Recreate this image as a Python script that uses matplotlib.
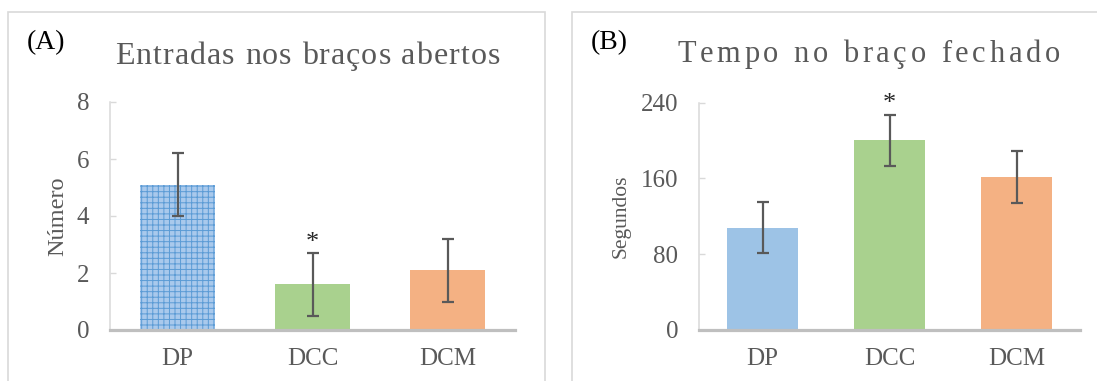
import matplotlib
matplotlib.use("Agg")
import matplotlib.pyplot as plt
from matplotlib.patches import Rectangle
from matplotlib import font_manager
from matplotlib.ft2font import FT2Font

# ---- data ----
groups = ["DP", "DCC", "DCM"]
entradas_mean = [5.1, 1.6, 2.1]
entradas_err = [1.1, 1.1, 1.1]
tempo_mean = [108, 200, 161]
tempo_err = [27, 27, 27.5]
bar_colors = ["#9dc3e6", "#a9d18e", "#f4b183"]
significant = [False, True, False]

W, H, DPI = 1097, 381, 100
SERIF = "Liberation Serif"
GREY_TXT = "#595959"
plt.rcParams["font.family"] = [SERIF, "DejaVu Serif"]
plt.rcParams["hatch.linewidth"] = 0.7

fig = plt.figure(figsize=(W / DPI, H / DPI), dpi=DPI)


def fx(px):
    return px / W


def fy(py):
    return 1 - py / H


def axes_px(left, top, right, bottom):
    return fig.add_axes([fx(left), fy(bottom), (right - left) / W, (bottom - top) / H])


def tracked_text(text, x_left, x_right, y_base, size, color):
    """Draw text glyph by glyph, spreading the letters to fill x_left..x_right."""
    fp = font_manager.FontProperties(family=SERIF, size=size)
    font = FT2Font(font_manager.findfont(fp))
    font.set_size(size, DPI)
    advances = [font.load_char(ord(ch)).linearHoriAdvance / 65536.0 for ch in text]
    spacing = (x_right - x_left - sum(advances)) / (len(text) - 1)
    x = x_left
    for ch, adv in zip(text, advances):
        fig.text(fx(x), fy(y_base), ch, fontsize=size, color=color,
                 ha="left", va="baseline", family=SERIF)
        x += adv + spacing


def style_axis(ax, ymax, yticks):
    ax.set_xlim(-0.5, 2.5)
    ax.set_ylim(0, ymax)
    ax.set_yticks(yticks)
    ax.set_xticks(range(len(groups)))
    ax.set_xticklabels(groups)
    for s in ("top", "right"):
        ax.spines[s].set_visible(False)
    ax.spines["left"].set_color("#d9d9d9")
    ax.spines["left"].set_linewidth(1.1)
    ax.spines["bottom"].set_color("#bfbfbf")
    ax.spines["bottom"].set_linewidth(2.3)
    ax.spines["bottom"].set_zorder(4)
    ax.tick_params(axis="y", direction="in", length=4.5, width=1.0,
                   color="#d9d9d9", pad=15, labelsize=18, labelcolor=GREY_TXT)
    ax.tick_params(axis="x", length=0, pad=13, labelsize=18, labelcolor=GREY_TXT)
    for lab in ax.get_xticklabels() + ax.get_yticklabels():
        lab.set_family(SERIF)


err_kw = dict(ecolor="#595959", elinewidth=1.6, capsize=4.5, capthick=1.6)
x = range(len(groups))

# ---- panel A ----
axA = axes_px(110, 102, 515, 330)
barsA = axA.bar(x, entradas_mean, width=0.56, color=bar_colors, zorder=2,
                yerr=entradas_err, error_kw=err_kw)
barsA[0].set_facecolor("#a9c9ec")
barsA[0].set_edgecolor("#5b9bd5")
barsA[0].set_linewidth(0)
barsA[0].set_hatch("+++")
style_axis(axA, 8, [0, 2, 4, 6, 8])
axA.set_ylabel("Número", fontsize=17.5, color=GREY_TXT, labelpad=6)
for i, sig in enumerate(significant):
    if sig:
        axA.text(i, entradas_mean[i] + entradas_err[i] + 0.35, "*", ha="center",
                 va="center", fontsize=19, color="#262626")

# ---- panel B ----
axB = axes_px(699, 102.5, 1080, 330)
axB.bar(x, tempo_mean, width=0.56, color=bar_colors, zorder=2,
        yerr=tempo_err, error_kw=err_kw)
style_axis(axB, 240, [0, 80, 160, 240])
axB.set_ylabel("Segundos", fontsize=15.5, color=GREY_TXT, labelpad=7)
for i, sig in enumerate(significant):
    if sig:
        axB.text(i, tempo_mean[i] + tempo_err[i] + 11, "*", ha="center",
                 va="center", fontsize=19, color="#262626")

# ---- titles and panel letters ----
tracked_text("Entradas nos braços abertos", 115, 500, 64, 23, GREY_TXT)
tracked_text("Tempo no braço fechado", 677, 1060, 62, 22, GREY_TXT)
fig.text(fx(27), fy(49), "(A)", fontsize=20, color="black", ha="left", va="baseline")
fig.text(fx(591), fy(49), "(B)", fontsize=20, color="black", ha="left", va="baseline")

# ---- panel frames ----
for left, right in ((7.5, 545), (572, 1110)):
    fig.add_artist(Rectangle((fx(left), fy(395)), (right - left) / W, (395 - 12) / H,
                             transform=fig.transFigure, fill=False,
                             edgecolor="#d9d9d9", linewidth=1.2))

fig.savefig("out.png", dpi=DPI, facecolor="white")
